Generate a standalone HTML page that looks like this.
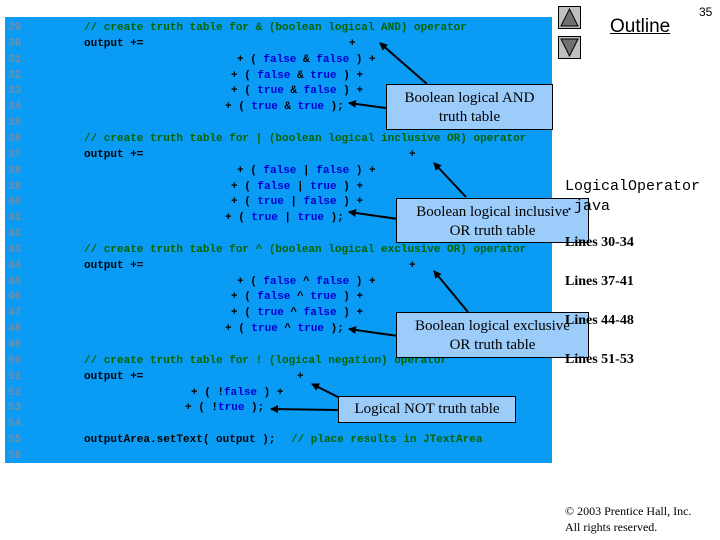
<!DOCTYPE html>
<html><head><meta charset="utf-8"><style>
body{margin:0;width:720px;height:540px;background:#fff;position:relative;overflow:hidden;font-family:"Liberation Sans",sans-serif}
.panel{position:absolute;left:5px;top:17px;width:547px;height:446px;background:#0a9bf5}
.l{position:absolute;font:bold 11px/16px "Liberation Mono",monospace;white-space:pre;color:#000}
.n{color:#7a8aa0;left:8px}
.c{color:#006400}
.k{color:#0000d0}
.box{position:absolute;background:#9cccfa;border:1px solid #000;font:15px/19px "Liberation Serif",serif;text-align:center;box-sizing:border-box;padding-top:4px}
.r{position:absolute;font:bold 14px "Liberation Serif",serif}
.btn{position:absolute;left:558px;width:23px;height:23px;background:#c0c0c0;border:1px solid #000;box-sizing:border-box}
</style></head><body>
<div class="panel"></div>
<div id="code"></div>
<script>
const L=[
[29,[[84,'<span class="c">// create truth table for &amp; (boolean logical AND) operator</span>']]],
[30,[[84,'output +='],[349,'+']]],
[31,[[237,'+ ( <span class="k">false</span> &amp; <span class="k">false</span> ) +']]],
[32,[[231,'+ ( <span class="k">false</span> &amp; <span class="k">true</span> ) +']]],
[33,[[231,'+ ( <span class="k">true</span> &amp; <span class="k">false</span> ) +']]],
[34,[[225,'+ ( <span class="k">true</span> &amp; <span class="k">true</span> );']]],
[35,[]],
[36,[[84,'<span class="c">// create truth table for | (boolean logical inclusive OR) operator</span>']]],
[37,[[84,'output +='],[409,'+']]],
[38,[[237,'+ ( <span class="k">false</span> | <span class="k">false</span> ) +']]],
[39,[[231,'+ ( <span class="k">false</span> | <span class="k">true</span> ) +']]],
[40,[[231,'+ ( <span class="k">true</span> | <span class="k">false</span> ) +']]],
[41,[[225,'+ ( <span class="k">true</span> | <span class="k">true</span> );']]],
[42,[]],
[43,[[84,'<span class="c">// create truth table for ^ (boolean logical exclusive OR) operator</span>']]],
[44,[[84,'output +='],[409,'+']]],
[45,[[237,'+ ( <span class="k">false</span> ^ <span class="k">false</span> ) +']]],
[46,[[231,'+ ( <span class="k">false</span> ^ <span class="k">true</span> ) +']]],
[47,[[231,'+ ( <span class="k">true</span> ^ <span class="k">false</span> ) +']]],
[48,[[225,'+ ( <span class="k">true</span> ^ <span class="k">true</span> );']]],
[49,[]],
[50,[[84,'<span class="c">// create truth table for ! (logical negation) operator</span>']]],
[51,[[84,'output +='],[297,'+']]],
[52,[[191,'+ ( !<span class="k">false</span> ) +']]],
[53,[[185,'+ ( !<span class="k">true</span> );']]],
[54,[]],
[55,[[84,'outputArea.setText( output );'],[291,'<span class="c">// place results in JTextArea</span>']]],
[56,[]]];
let h='';
L.forEach((r,i)=>{const t=20+i*15.85;
h+=`<div class="l n" style="top:${t}px">${r[0]}</div>`;
r[1].forEach(s=>{h+=`<div class="l" style="left:${s[0]}px;top:${t}px">${s[1]}</div>`});});
document.getElementById('code').innerHTML=h;
</script>
<svg width="720" height="540" style="position:absolute;left:0;top:0">
<defs><marker id="a" markerWidth="8" markerHeight="8" refX="7" refY="4" orient="auto" markerUnits="userSpaceOnUse"><path d="M0,0 L8,4 L0,8 z" fill="#000"/></marker></defs>
<g stroke="#000" stroke-width="2" marker-end="url(#a)">
<line x1="427" y1="84" x2="380" y2="43"/>
<line x1="386" y1="108" x2="349" y2="103"/>
<line x1="466" y1="197" x2="434" y2="163"/>
<line x1="398" y1="219" x2="349" y2="212"/>
<line x1="468" y1="312" x2="434" y2="271"/>
<line x1="398" y1="336" x2="349" y2="329"/>
<line x1="338" y1="397" x2="312" y2="384"/>
<line x1="338" y1="410" x2="271" y2="409"/>
</g></svg>
<div class="box" style="left:386px;top:84px;width:167px;height:46px">Boolean logical AND<br>truth table</div>
<div class="box" style="left:396px;top:198px;width:193px;height:45px">Boolean logical inclusive<br>OR truth table</div>
<div class="box" style="left:396px;top:312px;width:193px;height:46px">Boolean logical exclusive<br>OR truth table</div>
<div class="box" style="left:338px;top:396px;width:178px;height:27px;padding-top:3px">Logical NOT truth table</div>
<div class="btn" style="top:6px"><svg width="21" height="21"><path d="M10.5,2 L19,19 L2,19 z" fill="#707070" stroke="#000"/></svg></div>
<div class="btn" style="top:36px"><svg width="21" height="21"><path d="M10.5,19 L19,2 L2,2 z" fill="#707070" stroke="#000"/></svg></div>
<div style="position:absolute;left:610px;top:16px;font-size:19px;text-decoration:underline">Outline</div>
<div style="position:absolute;left:699px;top:5px;font-size:12px">35</div>
<div style="position:absolute;left:565px;top:177px;font:15px/20px 'Liberation Mono',monospace">LogicalOperator<br>.java</div>
<div class="r" style="left:565px;top:235px">Lines 30-34</div>
<div class="r" style="left:565px;top:274px">Lines 37-41</div>
<div class="r" style="left:565px;top:313px">Lines 44-48</div>
<div class="r" style="left:565px;top:352px">Lines 51-53</div>
<div style="position:absolute;left:565px;top:503px;font:12px/16px 'Liberation Serif',serif">© 2003 Prentice Hall, Inc.<br>All rights reserved.</div>
</body></html>
